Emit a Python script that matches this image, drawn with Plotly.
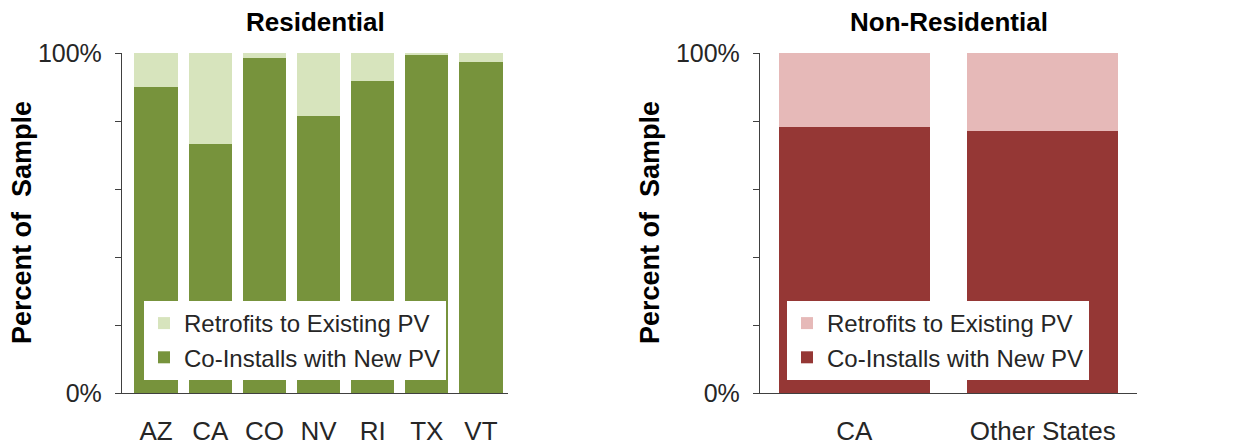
import plotly.graph_objects as go

res_states = ["AZ", "CA", "CO", "NV", "RI", "TX", "VT"]
res_coinstall = [90.1, 73.1, 98.4, 81.4, 91.7, 99.7, 97.3]
res_retrofit = [round(100 - v, 1) for v in res_coinstall]

nonres_groups = ["CA", "Other States"]
nonres_coinstall = [78.1, 77.0]
nonres_retrofit = [round(100 - v, 1) for v in nonres_coinstall]

y_tickvals = [0, 20, 40, 60, 80, 100]
y_ticktext = ["0%", "", "", "", "", "100%"]

GREEN_DARK = "#77933C"
GREEN_LIGHT = "#D7E4BD"
RED_DARK = "#953735"
RED_LIGHT = "#E6B9B8"

SANS = "Liberation Sans, Arial, sans-serif"
TXT = "#262626"

fig = go.Figure()
fig.add_trace(go.Bar(x=res_states, y=res_coinstall, name="Co-Installs with New PV",
                     marker=dict(color=GREEN_DARK, line=dict(width=0)),
                     xaxis="x", yaxis="y", legend="legend", width=0.8))
fig.add_trace(go.Bar(x=res_states, y=res_retrofit, name="Retrofits to Existing PV",
                     marker=dict(color=GREEN_LIGHT, line=dict(width=0)),
                     xaxis="x", yaxis="y", legend="legend", width=0.8))
fig.add_trace(go.Bar(x=nonres_groups, y=nonres_coinstall, name="Co-Installs with New PV",
                     marker=dict(color=RED_DARK, line=dict(width=0)),
                     xaxis="x2", yaxis="y2", legend="legend2", width=0.8))
fig.add_trace(go.Bar(x=nonres_groups, y=nonres_retrofit, name="Retrofits to Existing PV",
                     marker=dict(color=RED_LIGHT, line=dict(width=0)),
                     xaxis="x2", yaxis="y2", legend="legend2", width=0.8))

# page body has an 8px margin, so the figure is drawn at (8, 8)
OFF = 8
W, H = 1243 - OFF, 447 - OFF
TOP, BOT = 53 - OFF, 393 - OFF
PH = BOT - TOP
axis_color = "#404040"

def px(x):
    return (x - OFF) / W

def yaxis_cfg(anchor):
    return dict(range=[0, 100], tickvals=y_tickvals, ticktext=y_ticktext,
                ticks="outside", ticklen=6, tickwidth=1.3, tickcolor=axis_color,
                showline=True, linecolor=axis_color, linewidth=1.3,
                showgrid=False, zeroline=False, anchor=anchor,
                tickfont=dict(family=SANS, size=25, color=TXT),
                ticklabelstandoff=8, fixedrange=True)

def xaxis_cfg(domain, rng, anchor):
    return dict(domain=domain, range=rng, anchor=anchor,
                showline=True, linecolor=axis_color, linewidth=1.3, ticks="",
                showgrid=False, tickfont=dict(family=SANS, size=26, color=TXT),
                ticklabelstandoff=15, fixedrange=True)

def legend_cfg(x):
    return dict(x=px(x), y=(BOT - (301 - OFF)) / PH, xanchor="left", yanchor="top",
                traceorder="reversed", bgcolor="white",
                font=dict(family=SANS, size=24, color=TXT),
                tracegroupgap=0, itemwidth=30)

fig.update_layout(
    width=W, height=H, autosize=False,
    margin=dict(l=0, r=0, t=TOP, b=H - BOT, pad=0),
    plot_bgcolor="white", paper_bgcolor="white",
    barmode="stack", bargap=0.2,
    xaxis=xaxis_cfg([px(122), px(508)], [-0.63, 6.5], "y"),
    yaxis=yaxis_cfg("x"),
    xaxis2=xaxis_cfg([px(760), px(1137)], [-0.5, 1.5], "y2"),
    yaxis2=yaxis_cfg("x2"),
    legend=legend_cfg(144),
    legend2=legend_cfg(787),
    showlegend=True,
    annotations=[
        dict(text="<b>Residential</b>", x=(px(122) + px(508)) / 2, y=1, xref="paper", yref="paper",
             xanchor="center", yanchor="middle", yshift=31, showarrow=False,
             font=dict(family=SANS, size=26, color="black")),
        dict(text="<b>Non-Residential</b>", x=(px(760) + px(1137)) / 2, y=1, xref="paper", yref="paper",
             xanchor="center", yanchor="middle", yshift=31, showarrow=False,
             font=dict(family=SANS, size=26, color="black")),
        dict(text="<b>Percent of  Sample</b>", x=px(22), y=0.5, xref="paper", yref="paper",
             xanchor="center", yanchor="middle",
             textangle=-90, showarrow=False, font=dict(family=SANS, size=27, color="black")),
        dict(text="<b>Percent of  Sample</b>", x=px(650), y=0.5, xref="paper", yref="paper",
             xanchor="center", yanchor="middle",
             textangle=-90, showarrow=False, font=dict(family=SANS, size=27, color="black")),
    ],
)

fig.write_html("out.html")
